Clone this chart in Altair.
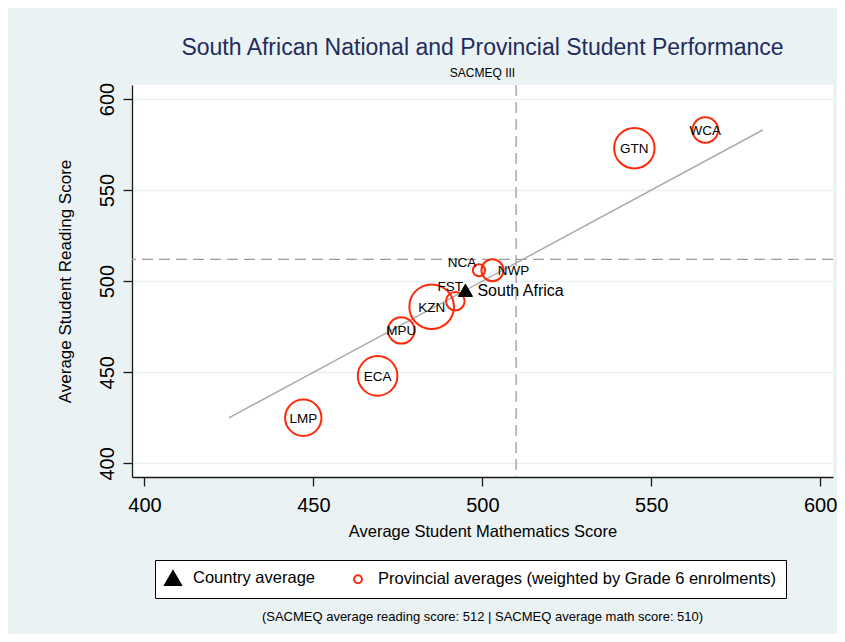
import altair as alt
import pandas as pd

# ---- data ----
provinces = ["LMP", "ECA", "MPU", "KZN", "FST", "NCA", "NWP", "GTN", "WCA"]
math_scores = [447, 469, 476, 485, 492, 499, 503, 545, 566]
reading_scores = [425, 448, 473, 486, 489, 506, 506, 573, 583]
# Grade 6 enrolments (thousands)
enrolments = [153, 181, 81, 230, 40, 17, 56, 189, 76]

country = ["South Africa"]
country_math = [495]
country_reading = [495]

fit_math = [425, 583]
fit_reading = [425, 583]

sacmeq_reading_avg = [512]
sacmeq_math_avg = [510]

x_ticks = [400, 450, 500, 550, 600]
y_ticks = [400, 450, 500, 550, 600]

series_names = ["Country average", "Provincial averages (weighted by Grade 6 enrolments)"]

# ---- tables ----
prov_df = pd.DataFrame({"province": provinces, "math": math_scores,
                        "read": reading_scores, "enrol": enrolments,
                        "series": series_names[1]})
ctry_df = pd.DataFrame({"name": country, "math": country_math,
                        "read": country_reading, "series": series_names[0]})
fit_df = pd.DataFrame({"math": fit_math, "read": fit_reading})
hline_df = pd.DataFrame({"read": sacmeq_reading_avg})
vline_df = pd.DataFrame({"math": sacmeq_math_avg})
note_df = pd.DataFrame({"note": [
    f"(SACMEQ average reading score: {sacmeq_reading_avg[0]} | "
    f"SACMEQ average math score: {sacmeq_math_avg[0]})"]})

FONT = "Liberation Sans"
RED = "#FF2A0A"
# hollow circle drawn at half the unit radius so the legend circle is small
SMALL_CIRCLE = "M0.5,0A0.5,0.5,0,1,1,-0.5,0A0.5,0.5,0,1,1,0.5,0Z"

x_scale = alt.Scale(domain=[396.3, 603.8], nice=False, zero=False)
y_scale = alt.Scale(domain=[392.5, 607.7], nice=False, zero=False)

x_axis = alt.Axis(values=x_ticks, title="Average Student Mathematics Score",
                  grid=False, labelFontSize=20, labelBaseline="alphabetic",
                  labelPadding=25, titleFontSize=16.5, titleBaseline="alphabetic",
                  titleY=59)
y_axis = alt.Axis(values=y_ticks, title="Average Student Reading Score",
                  grid=True, labelFontSize=20, labelAngle=270, labelAlign="center",
                  labelBaseline="alphabetic", labelPadding=10,
                  titleFontSize=17, titleBaseline="alphabetic", titleAngle=270,
                  titleX=-62)


def X():
    return alt.X("math:Q", scale=x_scale, axis=x_axis)


def Y():
    return alt.Y("read:Q", scale=y_scale, axis=y_axis)


legend = alt.Legend(
    title=None, orient="none", legendX=23, legendY=475, direction="horizontal",
    columns=2, strokeColor="black", fillColor="white", padding=9,
    labelFontSize=16.5, labelFont=FONT, labelColor="black", labelOffset=11,
    labelLimit=600, columnPadding=34, symbolSize=250, symbolStrokeWidth=2,
)

fill_enc = alt.Fill("series:N", scale=alt.Scale(domain=series_names,
                    range=["black", "transparent"]), legend=legend)
stroke_enc = alt.Stroke("series:N", scale=alt.Scale(domain=series_names,
                        range=["black", RED]), legend=legend)
shape_enc = alt.Shape("series:N", scale=alt.Scale(domain=series_names,
                      range=["triangle-up", SMALL_CIRCLE]), legend=legend)

hline = alt.Chart(hline_df).mark_rule(color="#9C9C9C", strokeWidth=1.3,
                                      strokeDash=[11, 6]).encode(y=Y())
vline = alt.Chart(vline_df).mark_rule(color="#9C9C9C", strokeWidth=1.3,
                                      strokeDash=[11, 6]).encode(x=X())
fit = alt.Chart(fit_df).mark_line(color="#ABABAB", strokeWidth=1.5).encode(x=X(), y=Y())

circles = alt.Chart(prov_df).mark_point(strokeWidth=2, opacity=1).encode(
    x=X(), y=Y(),
    size=alt.Size("enrol:Q", scale=alt.Scale(domain=[0, 230], range=[0, 7960]), legend=None),
    fill=fill_enc, stroke=stroke_enc, shape=shape_enc,
)

label_style = dict(font=FONT, fontSize=13.5, color="black")
centered = ["LMP", "ECA", "MPU", "KZN", "GTN", "WCA"]
lab_c = alt.Chart(prov_df).transform_filter(
    alt.FieldOneOfPredicate(field="province", oneOf=centered)
).mark_text(align="center", baseline="middle", dy=1, **label_style).encode(
    x=X(), y=Y(), text="province:N")
lab_nwp = alt.Chart(prov_df).transform_filter(alt.datum.province == "NWP").mark_text(
    align="center", baseline="middle", dx=21, dy=1, **label_style).encode(
    x=X(), y=Y(), text="province:N")
lab_nca = alt.Chart(prov_df).transform_filter(alt.datum.province == "NCA").mark_text(
    align="center", baseline="middle", dx=-17, dy=-7, **label_style).encode(
    x=X(), y=Y(), text="province:N")
lab_fst = alt.Chart(prov_df).transform_filter(alt.datum.province == "FST").mark_text(
    align="center", baseline="middle", dx=-5, dy=-14, **label_style).encode(
    x=X(), y=Y(), text="province:N")

tri = alt.Chart(ctry_df).mark_point(strokeWidth=1, opacity=1, size=200).encode(
    x=X(), y=Y(), fill=fill_enc, stroke=stroke_enc, shape=shape_enc)
tri_lab = alt.Chart(ctry_df).mark_text(align="left", baseline="middle", dx=12, dy=1,
                                       font=FONT, fontSize=16, color="black").encode(
    x=X(), y=Y(), text="name:N")

note = alt.Chart(note_df).mark_text(font=FONT, fontSize=13, color="black",
                                    align="center", baseline="alphabetic").encode(
    x=alt.value(350.5), y=alt.value(536), text="note:N")

chart = alt.layer(hline, vline, fit, circles, lab_c, lab_nwp, lab_nca, lab_fst,
                  tri, tri_lab, note).properties(
    width=701, height=392,
    autosize=alt.AutoSizeParams(type="none"),
    padding={"left": 124, "top": 77, "right": 4, "bottom": 157},
    title=alt.TitleParams(
        text="South African National and Provincial Student Performance",
        subtitle="SACMEQ III", anchor="middle", font=FONT, fontSize=23,
        fontWeight="normal", color="#1F2D5C", subtitleFont=FONT,
        subtitleFontSize=12, subtitleColor="black", subtitlePadding=8, offset=3),
).configure(background="#EAF2F3").configure_view(stroke=None, fill="white").configure_axis(
    labelFont=FONT, titleFont=FONT, labelColor="black", titleColor="black",
    titleFontWeight="normal", domainColor="#1A1A1A", domainWidth=1.3,
    tickColor="#1A1A1A", tickWidth=1.3, tickSize=9, gridColor="#E6EFF1", gridWidth=1.5,
)

chart.save("out.html", embed_options={"renderer": "svg", "actions": False})
